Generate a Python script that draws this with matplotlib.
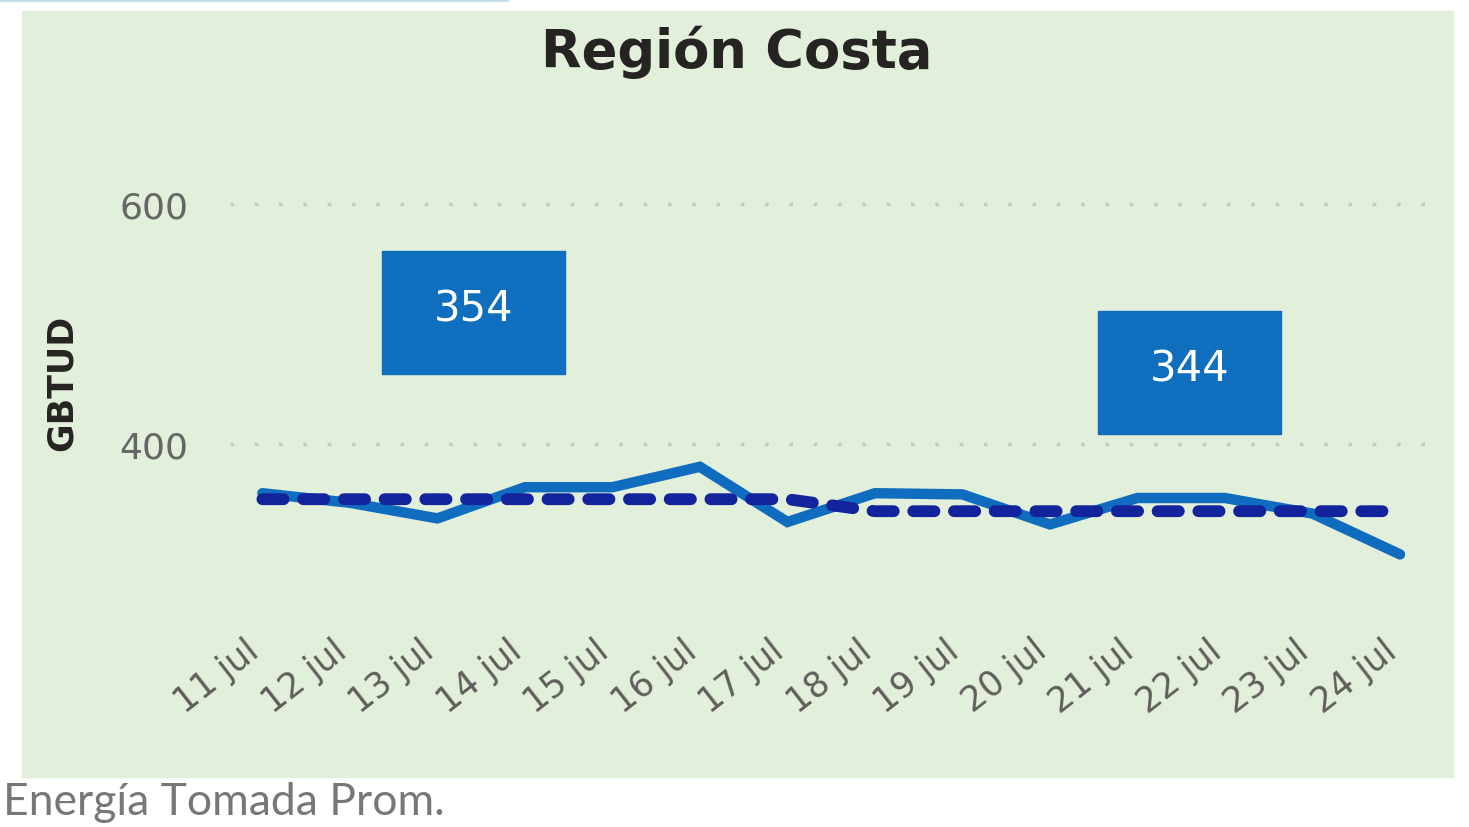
import matplotlib.pyplot as plt
from matplotlib.patches import Rectangle
from matplotlib.lines import Line2D
from matplotlib.transforms import ScaledTranslation

dias = ['11 jul', '12 jul', '13 jul', '14 jul', '15 jul', '16 jul', '17 jul',
        '18 jul', '19 jul', '20 jul', '21 jul', '22 jul', '23 jul', '24 jul']
energia = [359, 351, 338, 364, 364, 381, 335, 359, 358, 333, 355, 355, 342, 308]
promedio = [354] * 7 + [344] * 7
cajas = ['354', '344']

W, H = 1469, 828
verde = '#E2EFDA'
azul = '#0F6CBF'
marino = '#13239C'

fig = plt.figure(figsize=(W / 100, H / 100), dpi=100)
fig.patch.set_facecolor('white')

# fondo verde del panel
fig.patches.append(Rectangle((22 / W, 1 - 778 / H), (1453 - 22) / W, (778 - 12) / H,
                             transform=fig.transFigure, color=verde, zorder=-2))
fig.lines.append(Line2D([0, 507 / W], [1 - 1 / H, 1 - 1 / H], transform=fig.transFigure,
                        color='#BFDDE6', lw=2, zorder=-2))

ax = fig.add_axes([230 / W, 1 - 625 / H, (1435 - 230) / W, (625 - 145) / H])
ax.patch.set_alpha(0)
x = list(range(len(dias)))
ax.plot(x, energia, color=azul, lw=7.5, solid_capstyle='round', solid_joinstyle='miter', zorder=3)
ax.plot(x, promedio, color=marino, lw=8.5, linestyle=(0, (1.8, 1.65)), dash_capstyle='round', zorder=4)

ax.set_xlim(-0.37, 13.4)
ax.set_ylim(250, 650)
ax.set_yticks([400, 600])
ax.set_yticklabels(['400', '600'])
ax.set_xticks(x)
ax.set_xticklabels(dias, rotation=38, ha='right', va='top', rotation_mode='anchor')
ax.tick_params(axis='y', length=0, pad=30, labelsize=26, labelcolor='#666666')
ax.tick_params(axis='x', length=0, pad=6, labelsize=25, labelcolor='#605E5C')
desplaza = ScaledTranslation(-18 / 100, 0, fig.dpi_scale_trans)
for lab in ax.get_xticklabels():
    lab.set_transform(lab.get_transform() + desplaza)
for s in ax.spines.values():
    s.set_visible(False)
ax.grid(axis='y', color='#C8C8C8', lw=2.5, linestyle=(0, (1, 6)))
ax.grid(axis='x', visible=False)
ax.set_axisbelow(True)

fig.text(737 / W, 1 - 52 / H, 'Región Costa', ha='center', va='center',
         fontsize=38, fontweight='bold', color='#252423')
fig.text(62 / W, 1 - 383 / H, 'GBTUD', ha='center', va='center', rotation=90,
         fontsize=25, fontweight='bold', color='#252423')

# cajas de valores
for (x0, y0), t in zip([(382, 252), (1098, 312)], cajas):
    fig.patches.append(Rectangle((x0 / W, 1 - (y0 + 123) / H), 183 / W, 123 / H,
                                 transform=fig.transFigure, color='#106EBE', zorder=5))
    fig.text((x0 + 91.5) / W, 1 - (y0 + 58) / H, t, ha='center', va='center',
             fontsize=30, color='white', zorder=6)

fig.text(3 / W, 1 - 803 / H, 'Energía Tomada Prom.', ha='left', va='center',
         fontsize=32, color='#777777', family='Lato')

fig.savefig('out.png', dpi=100)
